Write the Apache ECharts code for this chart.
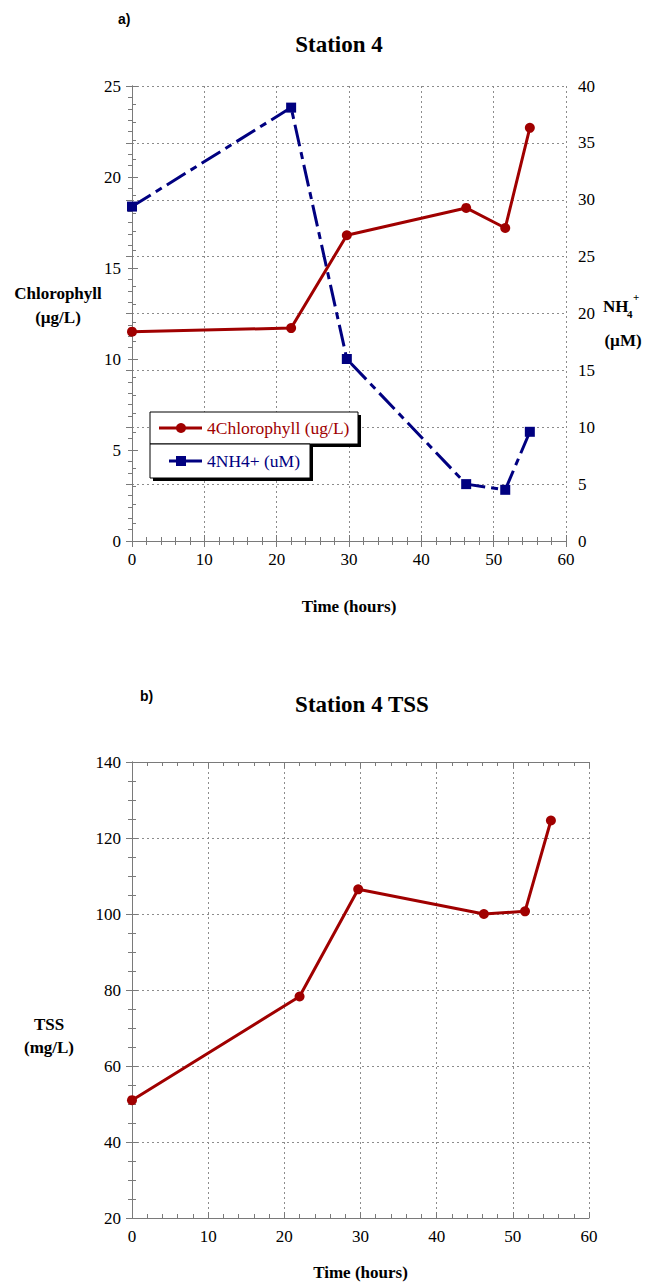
<!DOCTYPE html>
<html>
<head>
<meta charset="utf-8">
<script src="https://cdn.jsdelivr.net/npm/echarts@6/dist/echarts.min.js"></script>
<style>
  html, body { margin: 0; padding: 0; background: #fff; }
  #chart { width: 650px; height: 1282px; }
</style>
</head>
<body>
<div id="chart"></div>
<script>
// Sampling times at Station 4 (hours)
const timeHours = [0, 22, 29.7, 46.2, 51.6, 55];
// Chlorophyll (ug/L)
const chlorophyll = [11.5, 11.7, 16.8, 18.3, 17.2, 22.7];
// Ammonium NH4+ (uM)
const ammonium = [29.4, 38.1, 16.0, 5.0, 4.5, 9.6];
// Total suspended solids (mg/L)
const tss = [51, 78.3, 106.5, 100, 100.7, 124.6];

const RED = '#A00000';
const NAVY = '#000080';
const SERIF = '"Liberation Serif", "Times New Roman", serif';
const AXIS_GRAY = '#7a7a7a';
const GRID_GRAY = '#8c8c8c';

const pairs = (xs, ys) => xs.map((x, i) => [x, ys[i]]);

const tickLabel = { fontFamily: SERIF, fontSize: 17, color: '#000' };
const gridLine = { show: true, lineStyle: { color: GRID_GRAY, type: [2, 3], width: 1 } };
const axisLine = { show: true, lineStyle: { color: AXIS_GRAY, width: 1 } };
const majorTick = { show: true, inside: true, length: 6, lineStyle: { color: AXIS_GRAY } };
function minor(n) {
  return { show: true, splitNumber: n, length: 4, lineStyle: { color: AXIS_GRAY } };
}

// Generic value axis builder
function valueAxis(o) {
  return Object.assign({
    type: 'value',
    axisLine: axisLine,
    axisTick: majorTick,
    splitLine: { show: false },
    axisLabel: Object.assign({ show: true, margin: 10 }, tickLabel)
  }, o);
}

const timeAxisName = {
  name: 'Time (hours)',
  nameLocation: 'middle',
  nameTextStyle: { fontFamily: SERIF, fontSize: 17, fontWeight: 'bold', color: '#000' }
};

const chart = echarts.init(document.getElementById('chart'), null, { renderer: 'svg' });

chart.setOption({
  animation: false,
  backgroundColor: '#fff',
  grid: [
    { left: 132, top: 86, width: 434, height: 455 },
    { left: 132, top: 762, width: 457, height: 464 }
  ],
  xAxis: [
    // a) bottom time axis
    valueAxis(Object.assign({
      gridIndex: 0, position: 'bottom', min: 0, max: 60, interval: 10,
      minorTick: minor(5), splitLine: gridLine, nameGap: 57
    }, timeAxisName)),
    // a) top frame edge
    valueAxis({
      gridIndex: 0, position: 'top', min: 0, max: 60, interval: 10,
      minorTick: minor(5), axisLabel: { show: false }
    }),
    // b) bottom time axis
    valueAxis(Object.assign({
      gridIndex: 1, position: 'bottom', min: 0, max: 60, interval: 10,
      minorTick: minor(5), splitLine: gridLine, nameGap: 46
    }, timeAxisName)),
    // b) top frame edge
    valueAxis({
      gridIndex: 1, position: 'top', min: 0, max: 60, interval: 10,
      minorTick: minor(5), axisLabel: { show: false }
    })
  ],
  yAxis: [
    // a) chlorophyll, left
    valueAxis({
      gridIndex: 0, position: 'left', min: 0, max: 25, interval: 5,
      minorTick: minor(5), axisLabel: Object.assign({ margin: 11 }, tickLabel)
    }),
    // a) NH4+, right
    valueAxis({
      gridIndex: 0, position: 'right', min: 0, max: 40, interval: 5,
      minorTick: minor(5), splitLine: gridLine,
      axisLabel: Object.assign({ margin: 12 }, tickLabel)
    }),
    // b) TSS, left
    valueAxis({
      gridIndex: 1, position: 'left', min: 20, max: 140, interval: 20,
      minorTick: minor(4), splitLine: gridLine,
      axisLabel: Object.assign({ margin: 11 }, tickLabel)
    }),
    // b) right frame edge
    valueAxis({
      gridIndex: 1, position: 'right', min: 20, max: 140, interval: 20,
      minorTick: minor(4), axisLabel: { show: false }
    })
  ],
  series: [
    {
      name: '4Chlorophyll (ug/L)', type: 'line', xAxisIndex: 0, yAxisIndex: 0,
      data: pairs(timeHours, chlorophyll),
      symbol: 'circle', symbolSize: 10,
      lineStyle: { color: RED, width: 3 },
      itemStyle: { color: RED }, z: 3
    },
    {
      name: '4NH4+ (uM)', type: 'line', xAxisIndex: 0, yAxisIndex: 1,
      data: pairs(timeHours, ammonium),
      symbol: 'rect', symbolSize: 10,
      lineStyle: { color: NAVY, width: 3, type: [22, 6, 7, 6] },
      itemStyle: { color: NAVY }, z: 2
    },
    {
      name: 'TSS', type: 'line', xAxisIndex: 2, yAxisIndex: 2,
      data: pairs(timeHours, tss),
      symbol: 'circle', symbolSize: 10,
      lineStyle: { color: RED, width: 3 },
      itemStyle: { color: RED }
    }
  ],
  graphic: [
    // panel letters and titles
    { type: 'text', left: 118, top: 12, style: { text: 'a)', font: 'bold 14px "Liberation Sans", Arial, sans-serif', fill: '#000' } },
    { type: 'text', x: 339, y: 44, style: { text: 'Station 4', font: 'bold 23px ' + SERIF, fill: '#000', align: 'center', verticalAlign: 'middle' } },
    { type: 'text', left: 140, top: 689, style: { text: 'b)', font: 'bold 14px "Liberation Sans", Arial, sans-serif', fill: '#000' } },
    { type: 'text', x: 362, y: 704, style: { text: 'Station 4 TSS', font: 'bold 23px ' + SERIF, fill: '#000', align: 'center', verticalAlign: 'middle' } },

    // y-axis titles
    { type: 'text', x: 58, y: 293, style: { text: 'Chlorophyll', font: 'bold 17px ' + SERIF, fill: '#000', align: 'center', verticalAlign: 'middle' } },
    { type: 'text', x: 58, y: 317, style: { text: '(\u00b5g/L)', font: 'bold 17px ' + SERIF, fill: '#000', align: 'center', verticalAlign: 'middle' } },
    { type: 'text', x: 603, y: 306, style: { text: 'NH', font: 'bold 17px ' + SERIF, fill: '#000', align: 'left', verticalAlign: 'middle' } },
    { type: 'text', x: 627, y: 314, style: { text: '4', font: 'bold 11px ' + SERIF, fill: '#000', align: 'left', verticalAlign: 'middle' } },
    { type: 'text', x: 633, y: 297, style: { text: '+', font: 'bold 11px ' + SERIF, fill: '#000', align: 'left', verticalAlign: 'middle' } },
    { type: 'text', x: 623, y: 340, style: { text: '(\u00b5M)', font: 'bold 17px ' + SERIF, fill: '#000', align: 'center', verticalAlign: 'middle' } },
    { type: 'text', x: 49, y: 1024, style: { text: 'TSS', font: 'bold 17px ' + SERIF, fill: '#000', align: 'center', verticalAlign: 'middle' } },
    { type: 'text', x: 49, y: 1047, style: { text: '(mg/L)', font: 'bold 17px ' + SERIF, fill: '#000', align: 'center', verticalAlign: 'middle' } },

    // legend boxes with drop shadow
    { type: 'rect', z: 100, shape: { x: 153, y: 415, width: 208, height: 32 }, style: { fill: '#000' } },
    { type: 'rect', z: 100, shape: { x: 150, y: 412, width: 208, height: 32 }, style: { fill: '#fff', stroke: '#000', lineWidth: 1 } },
    { type: 'rect', z: 100, shape: { x: 153, y: 447, width: 160, height: 34 }, style: { fill: '#000' } },
    { type: 'rect', z: 100, shape: { x: 150, y: 444, width: 160, height: 34 }, style: { fill: '#fff', stroke: '#000', lineWidth: 1 } },
    // legend entries
    { type: 'line', z: 101, shape: { x1: 159, y1: 428, x2: 202, y2: 428 }, style: { stroke: RED, lineWidth: 3 } },
    { type: 'circle', z: 101, shape: { cx: 181, cy: 428, r: 5 }, style: { fill: RED } },
    { type: 'text', z: 101, x: 207, y: 428, style: { text: '4Chlorophyll (ug/L)', font: '17.5px ' + SERIF, fill: RED, verticalAlign: 'middle' } },
    { type: 'line', z: 101, shape: { x1: 169, y1: 461, x2: 202, y2: 461 }, style: { stroke: NAVY, lineWidth: 3 } },
    { type: 'rect', z: 101, shape: { x: 176, y: 456, width: 10, height: 10 }, style: { fill: NAVY } },
    { type: 'text', z: 101, x: 207, y: 461, style: { text: '4NH4+ (uM)', font: '17.5px ' + SERIF, fill: NAVY, verticalAlign: 'middle' } }
  ]
});
</script>
</body>
</html>
